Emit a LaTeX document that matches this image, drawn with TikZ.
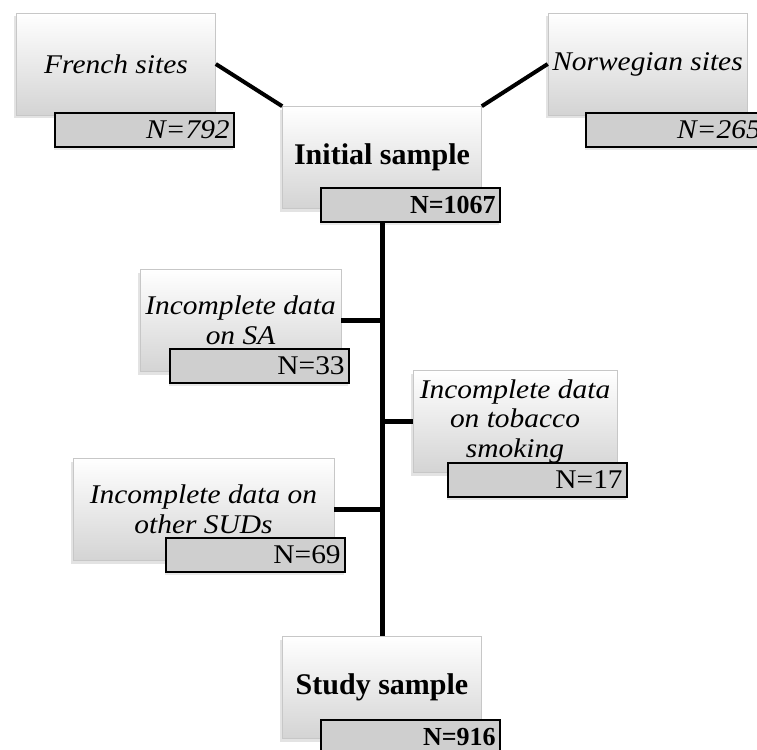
\documentclass[tikz,border=0pt]{standalone}
\usepackage{fontspec}
\setmainfont{Liberation Serif}
\newfontfamily\wideserif{Liberation Serif}[FakeStretch=1.09]
\usepackage{tikz}
\usetikzlibrary{shadows, positioning}

\begin{document}
\begin{tikzpicture}[
  x=1pt, y=-1pt,
  box/.style={rectangle, draw=black!22, line width=0.6pt, top color=white, bottom color=black!17, minimum width=199pt, minimum height=102pt, inner sep=1pt, align=center, drop shadow={shadow xshift=-2.5pt, shadow yshift=-3.5pt, opacity=0.22}},
  nbox/.style={rectangle, draw, line width=1.6pt, fill=black!19, text width=170pt, inner xsep=4.5pt, inner ysep=0pt, minimum height=34pt, align=right, anchor=north east, drop shadow={shadow xshift=-1.5pt, shadow yshift=-3pt, opacity=0.18}},
  itext/.style={font=\wideserif\itshape\fontsize{27}{29.5}\selectfont},
  rtext/.style={font=\wideserif\fontsize{27}{29.5}\selectfont},
  btext/.style={font=\bfseries\fontsize{30}{34}\selectfont},
  bcount/.style={font=\bfseries\fontsize{26}{30}\selectfont},
  link/.style={line width=4pt},
  trunk/.style={line width=5pt}
]
\useasboundingbox (0,0) rectangle (757,749);
\clip (0,0) rectangle (757,749);

\node[box, itext] (french) at (116,64) {French sites};
\node[box, itext] (norw) at (647.5,64) {Norwegian sites};
\node[box, btext] (init) at (382,157.5) {Initial sample};
\node[box, itext, minimum width=201pt] (sa) at (240.5,320.5) {Incomplete data\\on SA};
\node[box, itext, minimum width=204pt] (tob) at (515,421.5) {Incomplete data\\on tobacco\\smoking};
\node[box, itext, minimum width=261pt] (suds) at (203.5,509.5) {Incomplete data on\\other SUDs};
\node[box, btext] (study) at (382,687.5) {Study sample};

\node[nbox, itext] (n792) at (235,112) {N=792};
\node[nbox, itext] (n265) at (766,112) {N=265};
\node[nbox, bcount] (n1067) at (501,187) {N=1067};
\node[nbox, rtext] (n33) at (350,348) {N=33};
\node[nbox, rtext] (n17) at (628,462) {N=17};
\node[nbox, rtext] (n69) at (346,537) {N=69};
\node[nbox, bcount] (n916) at (501,719) {N=916};

\draw[link] (french.east) -- (init.north west);
\draw[link] (init.north east) -- (norw.west);
\draw[trunk] (n1067.south -| init.south) -- (study.north);
\draw[trunk] (sa.east) -- (sa.east -| init.center);
\draw[trunk] (tob.west) -- (tob.west -| init.center);
\draw[trunk] (suds.east) -- (suds.east -| init.center);
\end{tikzpicture}
\end{document}
